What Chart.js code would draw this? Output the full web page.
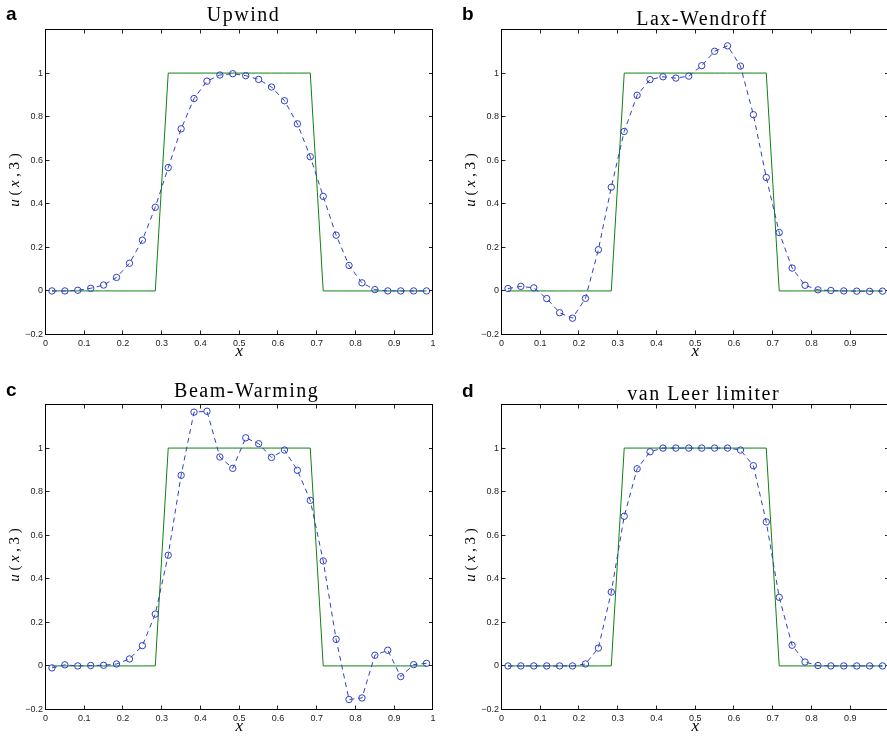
<!DOCTYPE html>
<html>
<head>
<meta charset="utf-8">
<script src="https://cdn.jsdelivr.net/npm/chart.js@4/dist/chart.umd.min.js"></script>
<style>
  html, body { margin: 0; padding: 0; background: #fff; }
  body { width: 887px; height: 737px; position: relative; overflow: hidden; }
  .panel { position: absolute; width: 443px; height: 368px; }
</style>
</head>
<body>
<div class="panel" style="left:0;top:0"><canvas id="chart-a" width="443" height="368"></canvas></div>
<div class="panel" style="left:456px;top:0"><canvas id="chart-b" width="443" height="368"></canvas></div>
<div class="panel" style="left:0;top:375px"><canvas id="chart-c" width="443" height="368"></canvas></div>
<div class="panel" style="left:456px;top:375px"><canvas id="chart-d" width="443" height="368"></canvas></div>
<script>
// Grid points (cell centres) and the exact square pulse
const xGrid = [0.0167, 0.05, 0.0833, 0.1167, 0.15, 0.1833, 0.2167, 0.25, 0.2833, 0.3167,
               0.35, 0.3833, 0.4167, 0.45, 0.4833, 0.5167, 0.55, 0.5833, 0.6167, 0.65,
               0.6833, 0.7167, 0.75, 0.7833, 0.8167, 0.85, 0.8833, 0.9167, 0.95, 0.9833];
const exact = [0, 0, 0, 0, 0, 0, 0, 0, 0, 1, 1, 1, 1, 1, 1, 1, 1, 1, 1, 1, 1, 0, 0, 0, 0, 0, 0, 0, 0, 0];

// Numerical solutions u(x,3)
const upwind = [0, 0, 0.003, 0.012, 0.027, 0.062, 0.127, 0.233, 0.384, 0.566,
                0.744, 0.883, 0.963, 0.991, 0.997, 0.988, 0.971, 0.936, 0.873, 0.767,
                0.616, 0.434, 0.256, 0.117, 0.037, 0.006, 0, 0, 0, 0];
const laxWendroff = [0.011, 0.021, 0.014, -0.035, -0.1, -0.125, -0.034, 0.189, 0.476, 0.732,
                     0.898, 0.970, 0.983, 0.977, 0.986, 1.034, 1.1, 1.125, 1.032, 0.809,
                     0.521, 0.268, 0.105, 0.026, 0.005, 0.002, 0, -0.001, -0.002, -0.001];
const beamWarming = [-0.009, 0.005, 0, 0.002, 0.003, 0.009, 0.032, 0.093, 0.238, 0.508,
                     0.875, 1.165, 1.169, 0.959, 0.907, 1.047, 1.02, 0.957, 0.991, 0.898,
                     0.76, 0.482, 0.122, -0.154, -0.147, 0.049, 0.072, -0.049, 0.006, 0.012];
const vanLeer = [0, 0, 0, 0, 0, 0, 0.009, 0.082, 0.339, 0.687,
                 0.905, 0.983, 1.0, 1.0, 1.0, 1.0, 1.0, 1.0, 0.991, 0.919,
                 0.661, 0.315, 0.095, 0.018, 0.002, 0, 0, 0, 0, 0];

// Axis tick settings
const xTickStep = 0.1;
const yTickStep = 0.2;
const yTickMax = 1;

const blue = '#2f3fc6';
const green = '#118011';
const tickFont = { family: '"Liberation Sans", Arial, Helvetica, sans-serif', size: 9 };

// Titles, letters and text positions per panel
const panels = [
    { id: 'chart-a', letter: 'a', title: 'Upwind', values: upwind, letterY: 20, titleX: 243.5, titleY: 20.7 },
    { id: 'chart-b', letter: 'b', title: 'Lax-Wendroff', values: laxWendroff, letterY: 20, titleX: 246, titleY: 25 },
    { id: 'chart-c', letter: 'c', title: 'Beam-Warming', values: beamWarming, letterY: 21, titleX: 246.7, titleY: 21.7 },
    { id: 'chart-d', letter: 'd', title: 'van Leer limiter', values: vanLeer, letterY: 21.5, titleX: 247.7, titleY: 25 }
];

function toPoints(xs, ys) {
    return xs.map((x, i) => ({ x: x, y: ys[i] }));
}

function formatTick(value) {
    const v = Math.round(value * 1000) / 1000;
    if (v === 0) return '0';
    return String(v).replace('-', '\u2212');
}

function dropTopTick(scale) {
    scale.ticks = scale.ticks.filter(t => t.value <= yTickMax + 1e-6);
}

// letters, titles and axis labels
const panelText = {
    id: 'panelText',
    afterDraw(chart, args, opts) {
        const { ctx, chartArea } = chart;
        ctx.save();
        ctx.fillStyle = '#000';
        ctx.textBaseline = 'alphabetic';

        ctx.font = 'bold 19px "Liberation Sans", Arial, sans-serif';
        ctx.textAlign = 'left';
        ctx.fillText(opts.letter, 6, opts.letterY);

        ctx.font = '20px "Liberation Serif", "Times New Roman", serif';
        ctx.letterSpacing = '1.5px';
        ctx.textAlign = 'center';
        ctx.fillText(opts.title, opts.titleX, opts.titleY);

        // x label
        ctx.letterSpacing = '0px';
        ctx.font = 'italic 17px "Liberation Serif", "Times New Roman", serif';
        ctx.fillText('x', (chartArea.left + chartArea.right) / 2, 356);

        // y label u(x, 3), rotated
        const parts = [['u', true], ['(', false], ['x', true], [',', false], ['3', false], [')', false]];
        const gap = 3.6;
        const fontFor = it => (it ? 'italic ' : '') + '15px "Liberation Serif", "Times New Roman", serif';
        let total = 0;
        parts.forEach(([t, it]) => { ctx.font = fontFor(it); total += ctx.measureText(t).width; });
        total += gap * (parts.length - 1);
        ctx.translate(19, (chartArea.top + chartArea.bottom) / 2 - 2);
        ctx.rotate(-Math.PI / 2);
        ctx.textAlign = 'left';
        let cx = -total / 2;
        parts.forEach(([t, it]) => {
            ctx.font = fontFor(it);
            ctx.fillText(t, cx, 0);
            cx += ctx.measureText(t).width + gap;
        });
        ctx.restore();
    }
};

function makeChart(panel) {
    const ctx = document.getElementById(panel.id);
    const inward = { drawOnChartArea: false, drawTicks: true, tickLength: -4, color: '#222', lineWidth: 1 };
    const frame = { display: true, color: '#000', width: 1 };
    return new Chart(ctx, {
        type: 'line',
        data: {
            datasets: [
                {
                    label: 'numerical',
                    data: toPoints(xGrid, panel.values),
                    borderColor: blue,
                    borderWidth: 1,
                    borderDash: [5, 4],
                    pointRadius: 3.2,
                    pointBorderWidth: 1,
                    pointBorderColor: blue,
                    pointBackgroundColor: 'rgba(0,0,0,0)',
                    tension: 0
                },
                {
                    label: 'exact',
                    data: toPoints(xGrid, exact),
                    borderColor: green,
                    borderWidth: 1,
                    pointRadius: 0,
                    tension: 0
                }
            ]
        },
        options: {
            responsive: false,
            animation: false,
            events: [],
            layout: { padding: { left: 0, top: 29.5, right: 9.5, bottom: 0 } },
            plugins: {
                legend: { display: false },
                tooltip: { enabled: false },
                title: { display: false },
                panelText: { letter: panel.letter, title: panel.title, letterY: panel.letterY, titleX: panel.titleX, titleY: panel.titleY }
            },
            scales: {
                x: {
                    type: 'linear', position: 'bottom', min: 0, max: 1,
                    afterFit: s => { s.height = 33.5; },
                    ticks: { stepSize: xTickStep, autoSkip: false, maxRotation: 0, padding: 7.5, font: tickFont, color: '#222', callback: formatTick },
                    grid: inward, border: frame
                },
                x2: {
                    type: 'linear', position: 'top', min: 0, max: 1,
                    afterFit: s => { s.height = 0; },
                    ticks: { stepSize: xTickStep, display: false },
                    grid: inward, border: frame
                },
                y: {
                    type: 'linear', position: 'left', min: -0.2, max: 1.2,
                    afterFit: s => { s.width = 45.5; },
                    afterBuildTicks: dropTopTick,
                    ticks: { stepSize: yTickStep, autoSkip: false, padding: 6.5, font: tickFont, color: '#222', callback: formatTick },
                    grid: inward, border: frame
                },
                y2: {
                    type: 'linear', position: 'right', min: -0.2, max: 1.2,
                    afterFit: s => { s.width = 0; },
                    afterBuildTicks: dropTopTick,
                    ticks: { stepSize: yTickStep, display: false },
                    grid: inward, border: frame
                }
            }
        },
        plugins: [panelText]
    });
}

document.addEventListener('DOMContentLoaded', () => {
    panels.forEach(makeChart);
});
</script>
</body>
</html>
